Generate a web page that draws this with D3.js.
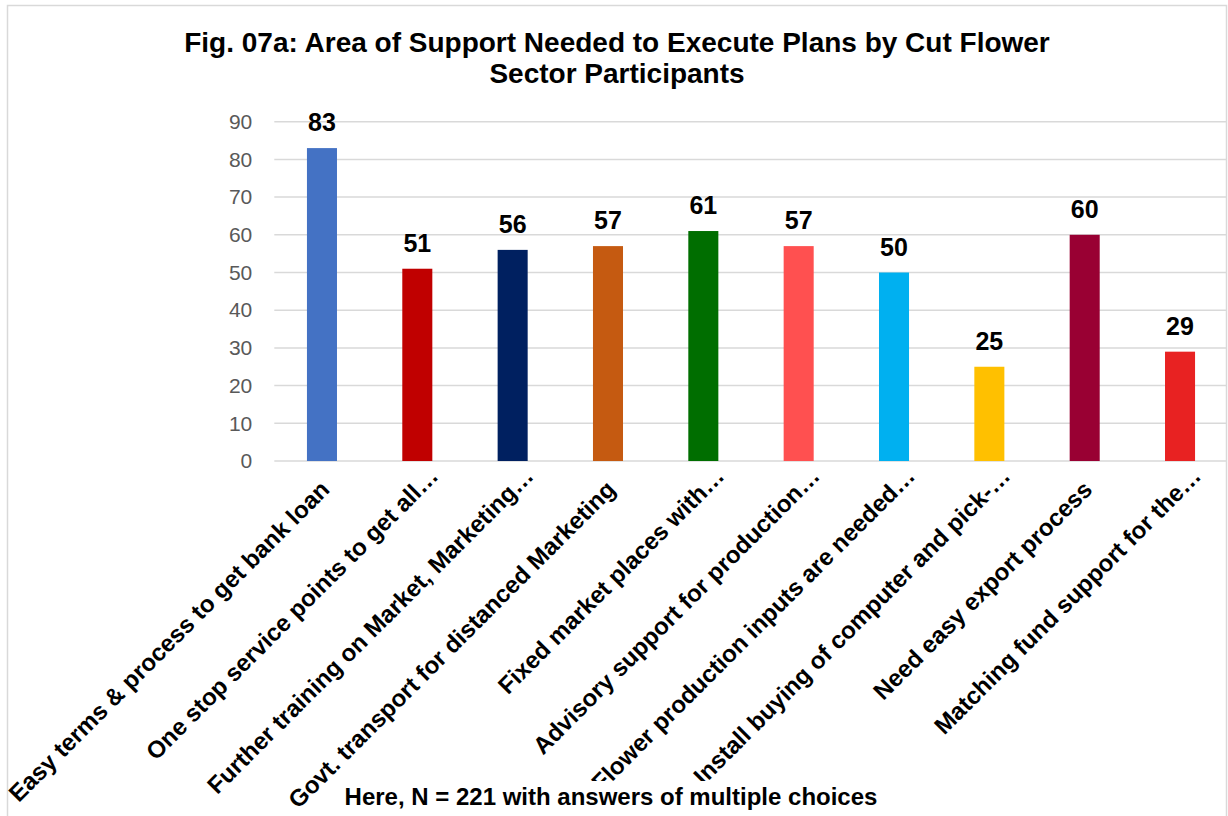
<!DOCTYPE html>
<html>
<head>
<meta charset="utf-8">
<script src="https://cdn.jsdelivr.net/npm/d3@7"></script>
<style>
  body { margin: 0; background: #fff; }
  svg { display: block; font-family: "Liberation Sans", Arial, sans-serif; }
</style>
</head>
<body>
<div id="chart"></div>
<script>
// chart data
const titleLines = ["Fig. 07a: Area of Support Needed to Execute Plans by Cut Flower", "Sector Participants"];
const footnote = "Here, N = 221 with answers of multiple choices";
const categories = [
    "Easy terms & process to get bank loan",
    "One stop service points to get all…",
    "Further training on Market, Marketing…",
    "Govt. transport for distanced Marketing",
    "Fixed market places with…",
    "Advisory support for production…",
    "Flower production inputs are needed…",
    "Install buying of computer and pick-…",
    "Need easy export process",
    "Matching fund support for the…"
];
const values = [83, 51, 56, 57, 61, 57, 50, 25, 60, 29];
const barColors = ["#4472c4", "#c00000", "#002060", "#c55a11", "#006e00", "#ff5050", "#00b0f0", "#ffc000", "#990033", "#e82222"];
const yTicks = [0, 10, 20, 30, 40, 50, 60, 70, 80, 90];

const W = 1228, H = 816;
const plot = { left: 274.3, right: 1227.7, top: 121.7, bottom: 461 };

const svg = d3.select("#chart").append("svg")
    .attr("width", W)
    .attr("height", H);

// chart area border
svg.append("rect")
    .attr("x", 7.5).attr("y", 5.5)
    .attr("width", 1219).attr("height", 830)
    .attr("fill", "#fff")
    .attr("stroke", "#d9d9d9")
    .attr("stroke-width", 1.5);

const x = d3.scaleBand()
    .domain(categories)
    .range([plot.left, plot.right])
    .paddingInner(0.685)
    .paddingOuter(0.3425);

const y = d3.scaleLinear()
    .domain([0, 90])
    .range([plot.bottom, plot.top]);

// gridlines
svg.append("g")
    .selectAll("line")
    .data(yTicks)
    .join("line")
    .attr("x1", plot.left).attr("x2", plot.right - 1)
    .attr("y1", d => y(d)).attr("y2", d => y(d))
    .attr("stroke", "#d9d9d9")
    .attr("stroke-width", 1.5);

// y axis labels
const yAxis = svg.append("g")
    .attr("transform", `translate(${plot.left - 22},0)`)
    .call(d3.axisLeft(y).tickValues(yTicks).tickSize(0).tickPadding(0));
yAxis.select(".domain").remove();
yAxis.selectAll("text")
    .attr("fill", "#595959")
    .style("font-size", "21px")
    .style("font-family", "'Liberation Sans', Arial, sans-serif");

// bars
svg.append("g")
    .selectAll("rect")
    .data(values)
    .join("rect")
    .attr("x", (d, i) => x(categories[i]))
    .attr("y", d => y(d))
    .attr("width", x.bandwidth())
    .attr("height", d => y(0) - y(d))
    .attr("fill", (d, i) => barColors[i]);

// value labels
svg.append("g")
    .selectAll("text")
    .data(values)
    .join("text")
    .attr("x", (d, i) => x(categories[i]) + x.bandwidth() / 2)
    .attr("y", d => y(d) - 17)
    .attr("text-anchor", "middle")
    .style("font-size", "25px")
    .style("font-weight", "bold")
    .attr("fill", "#000")
    .text(d => d);

// category labels, rotated
svg.append("g")
    .selectAll("text")
    .data(categories)
    .join("text")
    .attr("transform", d => {
        const cx = x(d) + x.bandwidth() / 2;
        const shift = d.endsWith("…") ? 19 : 0; // truncated labels sit a bit further up
        return `translate(${cx + 9 + shift * 0.707},${491 - shift * 0.707}) rotate(-45)`;
    })
    .attr("text-anchor", "end")
    .style("font-size", "24px")
    .style("font-weight", "bold")
    .attr("fill", "#000")
    .text(d => d);

// title
svg.append("text")
    .attr("x", 617)
    .attr("text-anchor", "middle")
    .style("font-size", "28px")
    .style("font-weight", "bold")
    .selectAll("tspan")
    .data(titleLines)
    .join("tspan")
    .attr("x", 617)
    .attr("y", (d, i) => 52 + i * 31)
    .text(d => d);

// footnote with white box behind it
svg.append("rect")
    .attr("x", 338).attr("y", 781)
    .attr("width", 550).attr("height", 35)
    .attr("fill", "#fff");
svg.append("text")
    .attr("x", 611)
    .attr("y", 805)
    .attr("text-anchor", "middle")
    .style("font-size", "24px")
    .style("font-weight", "bold")
    .text(footnote);
</script>
</body>
</html>
